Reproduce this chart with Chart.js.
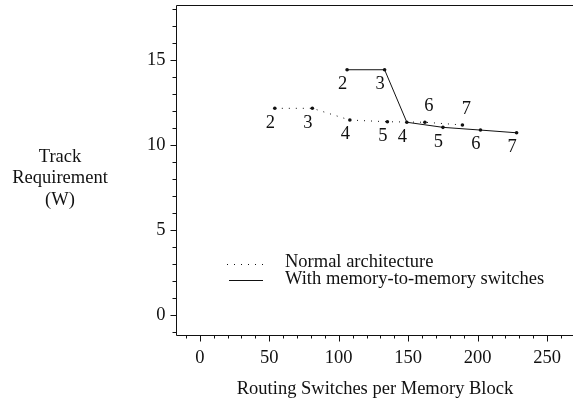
<!DOCTYPE html>
<html>
<head>
<meta charset="utf-8">
<script src="https://cdn.jsdelivr.net/npm/chart.js@4.4.0/dist/chart.umd.min.js"></script>
<style>
  html, body { margin: 0; padding: 0; background: #fff; }
  #wrap { width: 573px; height: 398px; position: relative; }
</style>
</head>
<body>
<div id="wrap"><canvas id="chart"></canvas></div>
<script>
// data
var normalX = [54, 81, 108, 135, 162, 189]
var normalY = [12.16, 12.16, 11.47, 11.37, 11.34, 11.18]
var normalLabels = ['2', '3', '4', '5', '6', '7']

var memX = [106, 133, 149, 175, 202, 228]
var memY = [14.43, 14.43, 11.34, 11.04, 10.88, 10.72]
var memLabels = ['2', '3', '4', '5', '6', '7']

var xTicks = [0, 50, 100, 150, 200, 250]
var yTicks = [0, 5, 10, 15]

var seriesNames = ['Normal architecture', 'With memory-to-memory switches']
var xTitle = 'Routing Switches per Memory Block'
var yTitle = ['Track', 'Requirement', '(W)']

var FAMILY = '"Liberation Serif", "Times New Roman", serif'
var SIZE = 18.5
var FONT = SIZE + 'px ' + FAMILY
var INK = '#111'

function toPoints(xs, ys) {
  return xs.map(function (x, i) { return { x: x, y: ys[i] } })
}

// frame, minor ticks, point labels, legend and titles
var decor = {
  id: 'decor',
  afterDraw: function (chart) {
    var ctx = chart.ctx
    var a = chart.chartArea
    var xs = chart.scales.x
    var ys = chart.scales.y
    var L = Math.round(a.left) + 0.5
    var B = Math.round(a.bottom) + 0.5
    ctx.save()
    ctx.strokeStyle = INK
    ctx.lineWidth = 1

    // box
    ctx.beginPath()
    ctx.moveTo(L, B)
    ctx.lineTo(L, Math.round(a.top) + 0.5)
    ctx.lineTo(chart.width, Math.round(a.top) + 0.5)
    ctx.moveTo(L, B)
    ctx.lineTo(chart.width, B)
    ctx.stroke()

    // y ticks, every 1 unit
    ctx.beginPath()
    for (var v = Math.ceil(ys.min); v <= ys.max; v++) {
      var py = Math.round(ys.getPixelForValue(v)) + 0.5
      var len = v % 5 === 0 ? 6 : 4
      ctx.moveTo(L, py)
      ctx.lineTo(L - len, py)
    }
    // x ticks, every 10 units
    for (var u = Math.ceil(xs.min / 10) * 10; u <= xs.max; u += 10) {
      var px = Math.round(xs.getPixelForValue(u)) + 0.5
      var l2 = u % 50 === 0 ? 6 : 3
      ctx.moveTo(px, B)
      ctx.lineTo(px, B + l2)
    }
    ctx.stroke()

    // point labels
    ctx.fillStyle = INK
    ctx.font = FONT
    ctx.textAlign = 'center'
    ctx.textBaseline = 'middle'
    normalX.forEach(function (x, i) {
      var p = xs.getPixelForValue(x)
      var q = ys.getPixelForValue(normalY[i])
      if (i >= 4) ctx.fillText(normalLabels[i], p + 4, q - 16)
      else ctx.fillText(normalLabels[i], p - 4.5, q + 14.5)
    })
    memX.forEach(function (x, i) {
      var p = xs.getPixelForValue(x)
      var q = ys.getPixelForValue(memY[i])
      ctx.fillText(memLabels[i], p - 4.5, q + 14.5)
    })

    // legend
    ctx.beginPath()
    ctx.setLineDash([1, 6])
    ctx.moveTo(227, 264.5)
    ctx.lineTo(266, 264.5)
    ctx.stroke()
    ctx.setLineDash([])
    ctx.beginPath()
    ctx.moveTo(229, 280.5)
    ctx.lineTo(263, 280.5)
    ctx.stroke()
    ctx.textAlign = 'left'
    ctx.fillText(seriesNames[0], 285, 262)
    ctx.fillText(seriesNames[1], 285, 279)

    // axis titles
    ctx.textAlign = 'center'
    ctx.fillText(xTitle, 375, 389)
    yTitle.forEach(function (s, i) {
      ctx.fillText(s, 60, 157 + i * 21.5)
    })
    ctx.restore()
  }
}

var chart = new Chart(document.getElementById('chart'), {
  type: 'scatter',
  data: {
    datasets: [
      {
        label: seriesNames[0],
        data: toPoints(normalX, normalY),
        showLine: true,
        borderColor: INK,
        borderWidth: 1,
        borderDash: [1, 6],
        backgroundColor: INK,
        pointRadius: 1.8,
        pointBorderWidth: 0,
      },
      {
        label: seriesNames[1],
        data: toPoints(memX, memY),
        showLine: true,
        borderColor: INK,
        borderWidth: 1,
        backgroundColor: INK,
        pointRadius: 1.8,
        pointBorderWidth: 0,
      },
    ],
  },
  options: {
    responsive: true,
    maintainAspectRatio: false,
    animation: false,
    layout: { padding: { top: 5, right: -5, left: 0, bottom: 0 } },
    plugins: { legend: { display: false }, tooltip: { enabled: false } },
    scales: {
      x: {
        type: 'linear',
        min: -17.4,
        max: 265.7,
        afterBuildTicks: function (s) { s.ticks = xTicks.map(function (v) { return { value: v } }) },
        afterFit: function (s) {
          s.height = 63
          s.paddingLeft = 0
          s.paddingRight = 0
        },
        grid: { display: false, drawTicks: false },
        border: { display: false },
        ticks: { color: INK, font: { family: FAMILY, size: SIZE }, padding: 12, maxRotation: 0 },
      },
      y: {
        type: 'linear',
        min: -1.18,
        max: 18.24,
        afterBuildTicks: function (s) { s.ticks = yTicks.map(function (v) { return { value: v } }) },
        afterFit: function (s) {
          s.width = 175.6
          s.paddingTop = 0
          s.paddingBottom = 0
        },
        grid: { display: false, drawTicks: false },
        border: { display: false },
        ticks: { color: INK, font: { family: FAMILY, size: SIZE }, padding: 10 },
      },
    },
  },
  plugins: [decor],
})
</script>
</body>
</html>
